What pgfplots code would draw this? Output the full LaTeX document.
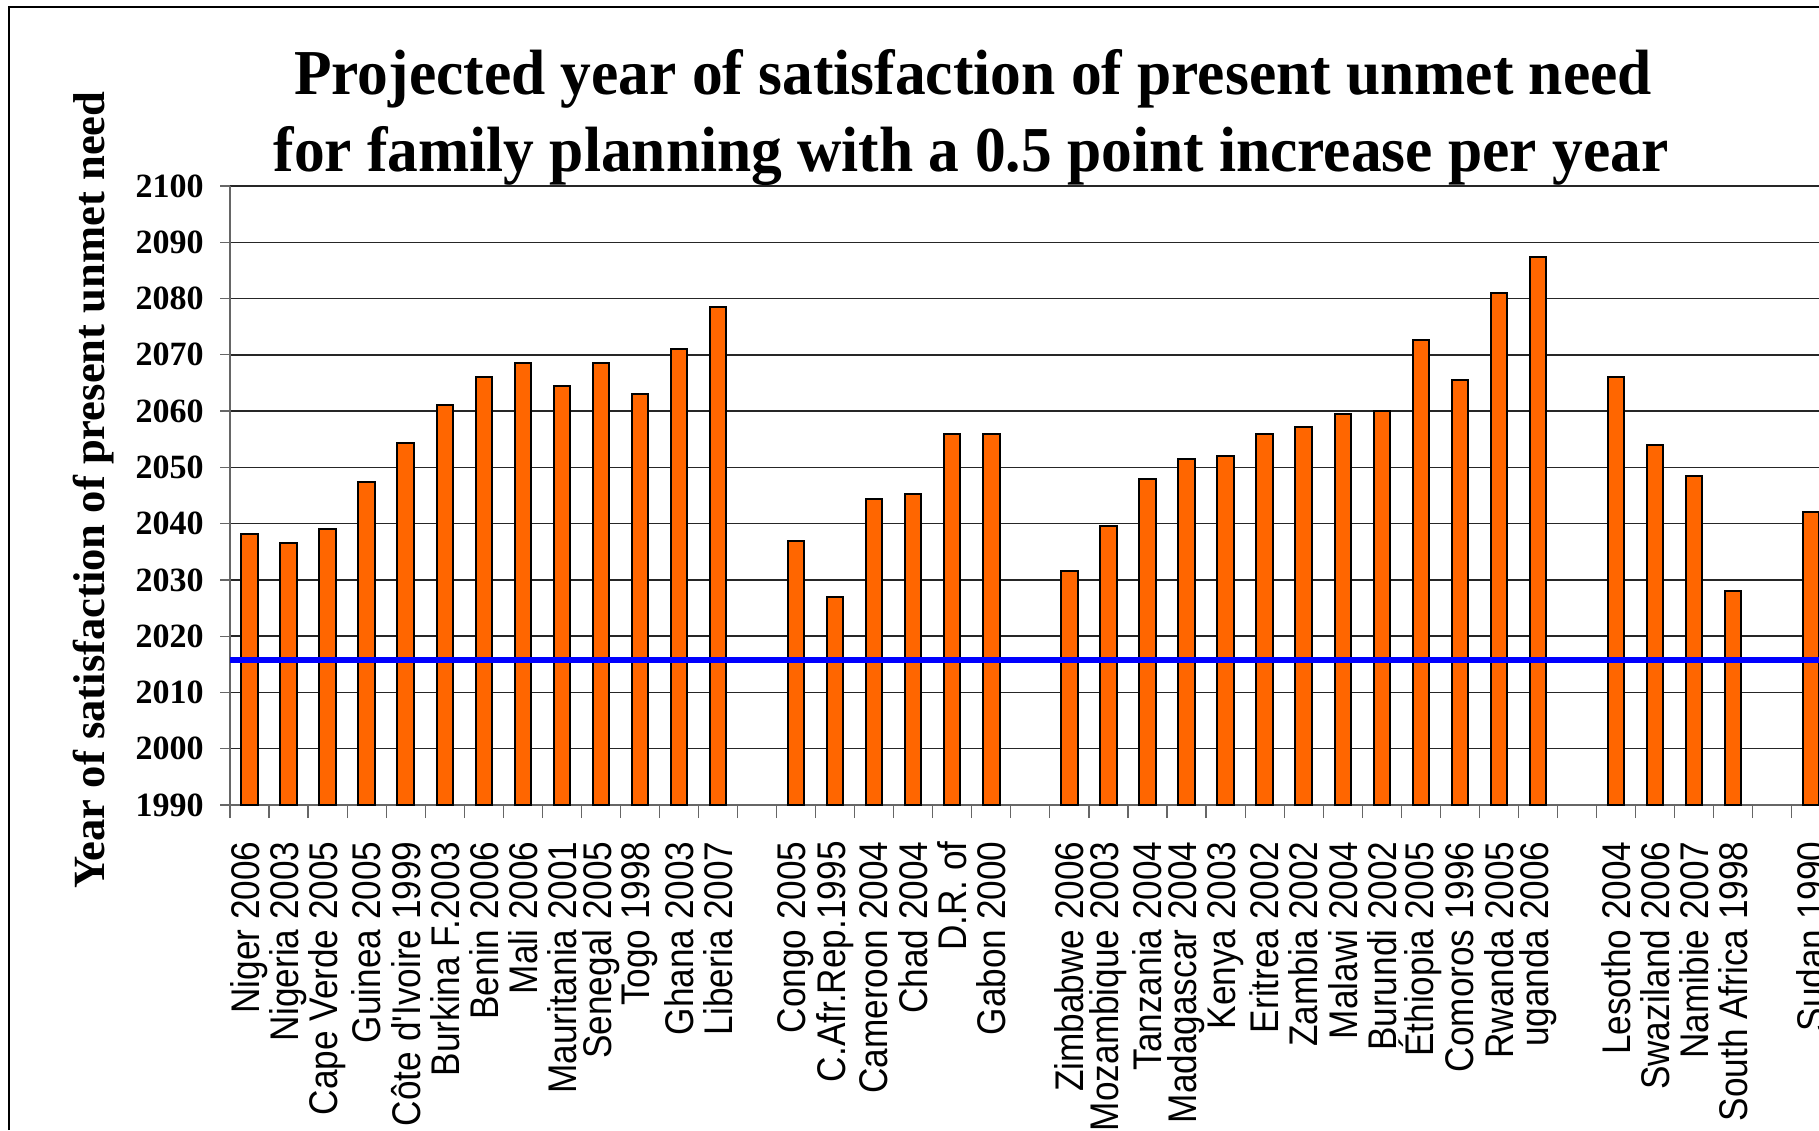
\documentclass[border=0pt]{standalone}
\usepackage{pgfplots}
\pgfplotsset{compat=1.18}
\usepackage{fontspec}
\setmainfont{Liberation Serif}
\newfontfamily\titlefont[FakeStretch=0.96]{Liberation Serif}
\newfontfamily\labfont[FakeStretch=0.88]{Liberation Sans}
\definecolor{barorange}{HTML}{FF6600}
\begin{document}
\begin{tikzpicture}[x=1pt,y=1pt]
\useasboundingbox (0,0) rectangle (909.5,565);
\begin{axis}[
  at={(115pt,162.5pt)}, anchor=south west,
  scale only axis, width=794.5pt, height=309.5pt,
  xmin=-0.5, xmax=40.2, ymin=1990, ymax=2100,
  axis x line*=bottom, axis y line*=left,
  x axis line style={-, draw=gray!80!black, line width=0.8pt},
  y axis line style={-, draw=gray!80!black, line width=0.8pt},
  tick align=outside,
  major tick length=5pt, minor tick length=6.5pt,
  xtick={0,...,40},
  xticklabels={Niger 2006,Nigeria 2003,Cape Verde 2005,Guinea 2005,Côte d'Ivoire 1999,Burkina F.2003,Benin 2006,Mali 2006,Mauritania 2001,Senegal 2005,Togo 1998,Ghana 2003,Liberia 2007,{},Congo 2005,C.Afr.Rep.1995,Cameroon 2004,Chad 2004,D.R. of,Gabon 2000,{},Zimbabwe 2006,Mozambique 2003,Tanzania 2004,Madagascar 2004,Kenya 2003,Eritrea 2002,Zambia 2002,Malawi 2004,Burundi 2002,Éthiopia 2005,Comoros 1996,Rwanda 2005,uganda 2006,{},Lesotho 2004,Swaziland 2006,Namibie 2007,South Africa 1998,{},Sudan 1990},
  major x tick style={draw=none},
  minor xtick={-0.5,0.5,...,40.5},
  minor x tick style={draw=gray!80!black, line width=0.6pt},
  ytick={1990,2000,...,2100},
  major y tick style={draw=gray!80!black, line width=0.6pt},
  ymajorgrids,
  major grid style={black!85, line width=0.7pt},
  /pgf/number format/.cd, 1000 sep={}, assume math mode=true, /pgfplots/.cd,
  xticklabel style={font=\labfont\fontsize{20}{20}\selectfont, rotate=90, anchor=east, inner sep=0pt},
  xticklabel shift=13pt,
  yticklabel style={font=\bfseries\fontsize{17}{17}\selectfont, anchor=east, inner sep=0pt},
  yticklabel shift=8pt,
]
\addplot[ybar, bar width=8.2pt, fill=barorange, draw=black, line width=1pt] coordinates {
(0,2038.1) (1,2036.6) (2,2039.0) (3,2047.4) (4,2054.4) (5,2061.0) (6,2066.0) (7,2068.5) (8,2064.5) (9,2068.5) (10,2063.0) (11,2071.0) (12,2078.5)
(14,2037.0) (15,2027.0) (16,2044.3) (17,2045.3) (18,2056.0) (19,2056.0)
(21,2031.6) (22,2039.6) (23,2047.9) (24,2051.5) (25,2052.0) (26,2056.0) (27,2057.1) (28,2059.5) (29,2060.0) (30,2072.6) (31,2065.6) (32,2081.0) (33,2087.4)
(35,2066.0) (36,2054.0) (37,2048.4) (38,2028.1)
(40,2042.1)
};
\addplot[blue, line width=3pt, no marks] coordinates {(-0.5,2015.75) (40.2,2015.75)};
\end{axis}
\node[font=\titlefont\bfseries\fontsize{32}{32}\selectfont, anchor=base] at (486.5,517.5) {Projected year of satisfaction of present unmet need};
\node[font=\titlefont\bfseries\fontsize{32}{32}\selectfont, anchor=base] at (485.5,479) {for family planning with a 0.5 point increase per year};
\node[rotate=90, anchor=base, font=\bfseries\fontsize{22.3}{22.3}\selectfont] at (52,320) {Year of satisfaction of present unmet need};
\draw[line width=1pt] (4.5,0) -- (4.5,561.5) -- (920,561.5);
\end{tikzpicture}
\end{document}
